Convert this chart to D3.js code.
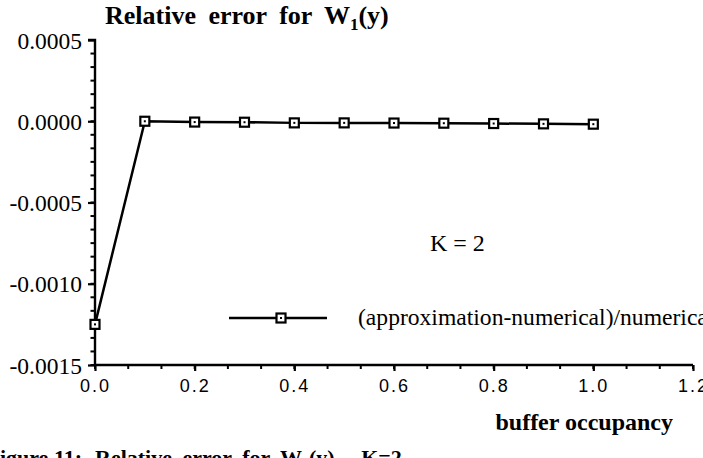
<!DOCTYPE html>
<html><head><meta charset="utf-8">
<script src="https://cdn.jsdelivr.net/npm/d3@7"></script>
<style>
body{margin:0;background:#fff;overflow:hidden}
svg{display:block}
</style></head>
<body>
<script>
const occupancy = [0.0, 0.1, 0.2, 0.3, 0.4, 0.5, 0.6, 0.7, 0.8, 0.9, 1.0];
const relError = [-0.00125, 0.0, -0.000005, -0.000006, -0.00001, -0.00001, -0.000011, -0.000012, -0.000014, -0.000016, -0.000018];
const yTickValues = [0.0005, 0.0, -0.0005, -0.0010, -0.0015];
const yTickLabels = ["0.0005", "0.0000", "-0.0005", "-0.0010", "-0.0015"];
const xTickValues = [0.0, 0.2, 0.4, 0.6, 0.8, 1.0, 1.2];
const xTickLabels = ["0.0", "0.2", "0.4", "0.6", "0.8", "1.0", "1.2"];
const seriesName = "(approximation-numerical)/numerical";

const W = 703, H = 458;
const svg = d3.select("body").append("svg").attr("width", W).attr("height", H);

const x = d3.scaleLinear().domain([0, 1.2]).range([95, 693]);
const y = d3.scaleLinear().domain([-0.0015, 0.0005]).range([365, 40]);

const serif = "'Liberation Serif', 'Times New Roman', serif";
const sans = "'Liberation Sans', Arial, sans-serif";

// Y axis
const yMinor = d3.range(0, 25).map(i => 0.0005 - i * 0.0005 / 6).filter(v => v >= -0.0015 - 1e-9);
const yAxis = d3.axisLeft(y).tickValues(yTickValues).tickFormat((d, i) => yTickLabels[i]).tickSize(7).tickPadding(6);
const gy = svg.append("g").attr("transform", `translate(${x(0)},0)`).call(yAxis);
gy.select(".domain").attr("stroke", "#000").attr("stroke-width", 2.4).attr("d", `M-7,${y(0.0005)}H0V${y(-0.0015)}`);
gy.selectAll(".tick line").attr("stroke", "#000").attr("stroke-width", 2.2);
gy.selectAll(".tick text").attr("font-family", serif).attr("font-size", 23.5).attr("fill", "#000").attr("dy", "0.34em");
svg.append("g").selectAll("line").data(yMinor).join("line")
  .attr("x1", x(0) - 4.5).attr("x2", x(0)).attr("y1", d => y(d)).attr("y2", d => y(d))
  .attr("stroke", "#000").attr("stroke-width", 2);

// X axis
const xMinor = d3.range(0, 19).map(i => i * 0.2 / 3);
const xAxis = d3.axisBottom(x).tickValues(xTickValues).tickFormat((d, i) => xTickLabels[i]).tickSize(6).tickPadding(8);
const gx = svg.append("g").attr("transform", `translate(0,${y(-0.0015)})`).call(xAxis);
gx.select(".domain").attr("stroke", "#000").attr("stroke-width", 2.4).attr("d", `M${x(0)},0H${x(1.2)}`);
gx.selectAll(".tick line").attr("stroke", "#000").attr("stroke-width", 2.2);
gx.selectAll(".tick text").attr("font-family", sans).attr("font-size", 18).attr("fill", "#000").attr("letter-spacing", "2px");
svg.append("g").selectAll("line").data(xMinor).join("line")
  .attr("x1", d => x(d)).attr("x2", d => x(d)).attr("y1", y(-0.0015)).attr("y2", y(-0.0015) + 4)
  .attr("stroke", "#000").attr("stroke-width", 2);

// Line
const pts = occupancy.map((o, i) => [o, relError[i]]);
svg.append("path").datum(pts)
  .attr("fill", "none").attr("stroke", "#000").attr("stroke-width", 2.5)
  .attr("d", d3.line().x(d => x(d[0])).y(d => y(d[1])));

function marker(g, cx, cy) {
  g.append("rect").attr("x", cx - 4.5).attr("y", cy - 4.5).attr("width", 9).attr("height", 9)
    .attr("fill", "#fff").attr("stroke", "#000").attr("stroke-width", 2.2);
  g.append("rect").attr("x", cx - 1).attr("y", cy - 1).attr("width", 2).attr("height", 2).attr("fill", "#000");
}
const mg = svg.append("g");
pts.forEach(p => marker(mg, x(p[0]), y(p[1])));

// Title
const title = svg.append("text").attr("x", 105).attr("y", 24)
  .attr("font-family", serif).attr("font-weight", "bold").attr("font-size", 26).attr("word-spacing", "6px").attr("fill", "#000");
title.append("tspan").text("Relative error for W");
title.append("tspan").attr("font-size", 17).attr("dy", 6).text("1");
title.append("tspan").attr("dy", -6).text("(y)");

// K = 2
svg.append("text").attr("x", 430).attr("y", 251).attr("font-family", serif).attr("font-size", 24).attr("fill", "#000").text("K = 2");

// Legend
const ly = 318;
svg.append("line").attr("x1", 229).attr("x2", 327).attr("y1", ly).attr("y2", ly).attr("stroke", "#000").attr("stroke-width", 2.5);
marker(svg.append("g"), 281, ly);
svg.append("text").attr("x", 358).attr("y", ly + 7).attr("font-family", serif).attr("font-size", 23.6).attr("fill", "#000").text(seriesName);

// X axis title
svg.append("text").attr("x", 673).attr("y", 430).attr("text-anchor", "end")
  .attr("font-family", serif).attr("font-weight", "bold").attr("font-size", 24).attr("fill", "#000").text("buffer occupancy");

// Caption (cut off at bottom)
const cap = svg.append("text").attr("x", 95).attr("y", 465)
  .attr("font-family", serif).attr("font-weight", "bold").attr("font-size", 22).attr("word-spacing", "5px").attr("fill", "#000");
cap.append("tspan").text("Relative error for W");
cap.append("tspan").attr("font-size", 14).attr("dy", 4).text("1");
cap.append("tspan").attr("dy", -4).text("(y) , K=2");
svg.append("text").attr("x", 82).attr("y", 465).attr("text-anchor", "end")
  .attr("font-family", serif).attr("font-weight", "bold").attr("font-size", 22).attr("fill", "#000").text("Figure 11:");
</script>
</body></html>
